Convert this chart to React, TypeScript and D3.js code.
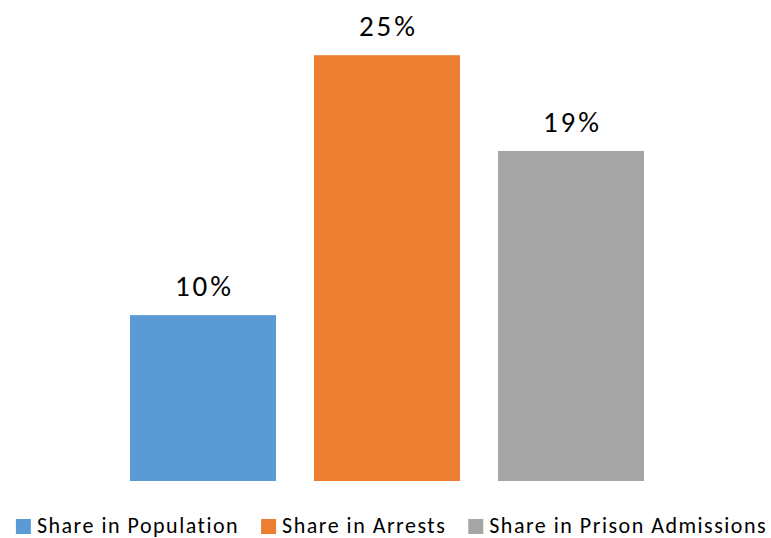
import React, { useEffect, useRef } from "react";
import * as d3 from "d3";

const categories = ["Share in Population", "Share in Arrests", "Share in Prison Admissions"];
const values = [0.097, 0.249, 0.193];
const colors = ["#5B9BD5", "#ED7D31", "#A5A5A5"];

const W = 771;
const H = 538;
const FONT = "Carlito, Calibri, Lato, 'Open Sans', sans-serif";

export default function App() {
  const ref = useRef<SVGSVGElement | null>(null);

  useEffect(() => {
    const svg = d3.select(ref.current);
    svg.selectAll("*").remove();

    const x = d3
      .scaleBand<string>()
      .domain(categories)
      .range([111, 663])
      .paddingInner(38 / 184)
      .paddingOuter(19 / 184);

    const y = d3.scaleLinear().domain([0, 0.28]).range([481, 481 - 0.28 * 1710]);

    const data = categories.map((c, i) => ({ c, v: values[i], color: colors[i] }));

    svg
      .append("g")
      .selectAll("rect")
      .data(data)
      .join("rect")
      .attr("x", (d) => x(d.c)!)
      .attr("y", (d) => y(d.v))
      .attr("width", x.bandwidth())
      .attr("height", (d) => y(0) - y(d.v))
      .attr("fill", (d) => d.color);

    const fmt = d3.format(".0%");
    svg
      .append("g")
      .selectAll("text")
      .data(data)
      .join("text")
      .attr("x", (d) => x(d.c)! + x.bandwidth() / 2 + 1.5)
      .attr("y", (d) => y(d.v) - 19)
      .attr("text-anchor", "middle")
      .attr("font-family", FONT)
      .attr("font-size", 29)
      .attr("letter-spacing", 3)
      .attr("fill", "#000")
      .text((d) => fmt(d.v));

    // legend
    const lg = svg.append("g");
    const items = lg.selectAll("g").data(data).join("g");
    items
      .append("rect")
      .attr("width", 15)
      .attr("height", 15)
      .attr("y", 519)
      .attr("fill", (d) => d.color);
    const texts = items
      .append("text")
      .attr("x", 21)
      .attr("y", 533)
      .attr("font-family", FONT)
      .attr("font-size", 22)
      .attr("letter-spacing", 1.5)
      .attr("fill", "#000")
      .text((d) => d.c);
    const widths: number[] = [];
    texts.each(function () {
      widths.push((this as SVGTextElement).getComputedTextLength());
    });
    const gap = 22;
    const itemW = widths.map((w) => 21 + w);
    const total = d3.sum(itemW) + gap * (itemW.length - 1);
    let cx = (15 + 768) / 2 - total / 2;
    items.each(function (_d, i) {
      d3.select(this).attr("transform", `translate(${cx},0)`);
      cx += itemW[i] + gap;
    });
  }, []);

  return (
    <svg
      ref={ref}
      width={W}
      height={H}
      style={{ position: "absolute", left: 0, top: 0, background: "#fff" }}
    />
  );
}
